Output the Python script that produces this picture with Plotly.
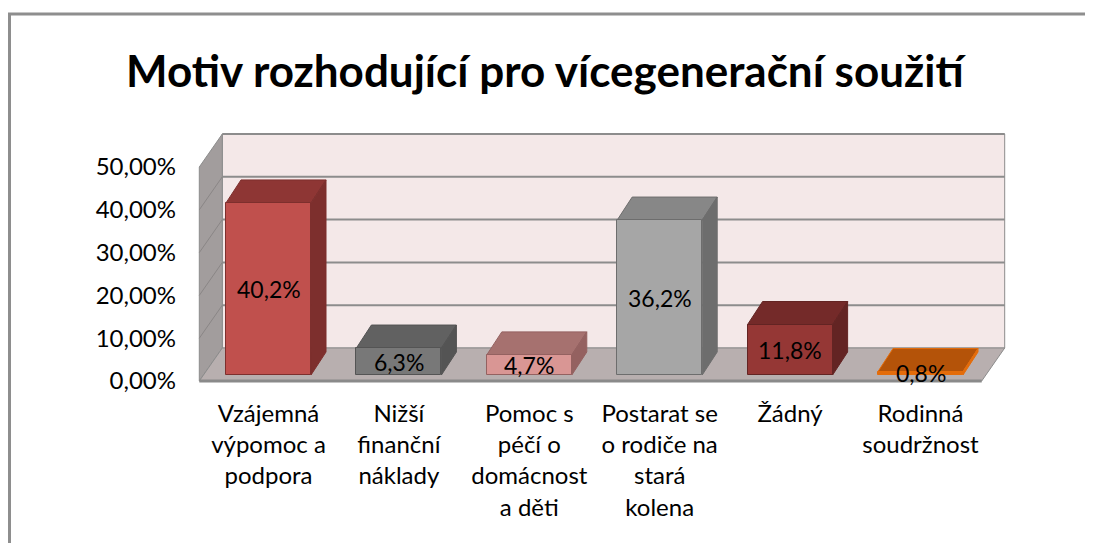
import plotly.graph_objects as go

# ---- data ----
categories = [
    "Vzájemná<br>výpomoc a<br>podpora",
    "Nižší<br>finanční<br>náklady",
    "Pomoc s<br>péčí o<br>domácnost<br>a děti",
    "Postarat se<br>o rodiče na<br>stará<br>kolena",
    "Žádný",
    "Rodinná<br>soudržnost",
]
values = [40.2, 6.3, 4.7, 36.2, 11.8, 0.8]
y_ticks = [0, 10, 20, 30, 40, 50]
y_tick_labels = ["0,00%", "10,00%", "20,00%", "30,00%", "40,00%", "50,00%"]
title_text = "Motiv rozhodující pro vícegenerační soužití"

front_colors = ["#C0504D", "#787878", "#D99694", "#A6A6A6", "#953735", "#E46C0A"]
top_colors = ["#8E3634", "#616161", "#A6716F", "#878787", "#742A29", "#B45309"]
side_colors = ["#7D2F2D", "#545454", "#946160", "#6D6D6D", "#632423", "#E46C0A"]

# ---- geometry (pixels -> data units); page body has an 8px margin ----
OFF = 8
W, H = 1093, 543
KX = 130.4          # px per category
KY = 4.28           # px per percent
x0_px, y0_px = 268.5 - OFF, 375.0 - OFF
xmin = -x0_px / KX
xmax = xmin + W / KX
ymin = -(H - y0_px) / KY
ymax = ymin + H / KY

bar_w = 0.652
n = len(values)
ymax_wall = y_ticks[-1]

def dvec(px_dx, px_dy):
    return px_dx / KX, -px_dy / KY

fx, fy = dvec(-4, 6)      # floor front plane offset
bx, by = dvec(19, -27)    # back wall offset
qx, qy = dvec(15, -23)    # bar depth

def path(pts):
    return "M " + " L ".join(f"{a},{b}" for a, b in pts) + " Z"

shapes = []
L, R = -0.5, n - 0.5
# back wall
shapes.append(dict(type="path", xref="x", yref="y", layer="below",
                   path=path([(L + bx, by), (R + bx, by), (R + bx, ymax_wall + by), (L + bx, ymax_wall + by)]),
                   fillcolor="#F4E8E8", line=dict(color="#8C8C8C", width=1)))
# gridlines back wall
for t in y_ticks[1:]:
    shapes.append(dict(type="line", xref="x", yref="y", layer="below",
                       x0=L + bx, x1=R + bx, y0=t + by, y1=t + by,
                       line=dict(color="#8C8C8C", width=2)))
# left wall
shapes.append(dict(type="path", xref="x", yref="y", layer="below",
                   path=path([(L + fx, fy), (L + bx, by), (L + bx, ymax_wall + by), (L + fx, ymax_wall + fy)]),
                   fillcolor="#A29D9D", line=dict(color="#8C8C8C", width=1)))
for t in y_ticks[1:-1]:
    shapes.append(dict(type="line", xref="x", yref="y", layer="below",
                       x0=L + fx, x1=L + bx, y0=t + fy, y1=t + by,
                       line=dict(color="#8A8686", width=1)))
# floor
shapes.append(dict(type="path", xref="x", yref="y", layer="below",
                   path=path([(L + fx, fy), (R + fx, fy), (R + bx, by), (L + bx, by)]),
                   fillcolor="#B8AFAF", line=dict(color="#8C8C8C", width=1)))
shapes.append(dict(type="line", xref="x", yref="y", layer="below",
                   x0=L + fx, x1=R + fx, y0=fy, y1=fy,
                   line=dict(color="#8A8A8A", width=3)))

# bar 3D faces
for i, v in enumerate(values):
    xl, xr = i - bar_w / 2, i + bar_w / 2
    shapes.append(dict(type="path", xref="x", yref="y", layer="below",
                       path=path([(xl, v), (xr, v), (xr + qx, v + qy), (xl + qx, v + qy)]),
                       fillcolor=top_colors[i], line=dict(color=side_colors[i], width=1)))
    shapes.append(dict(type="path", xref="x", yref="y", layer="below",
                       path=path([(xr, 0), (xr, v), (xr + qx, v + qy), (xr + qx, qy)]),
                       fillcolor=side_colors[i], line=dict(color=side_colors[i], width=1)))

# chart border
shapes.append(dict(type="rect", xref="paper", yref="paper",
                   x0=1.5 / W, x1=1.05, y0=-0.05, y1=1 - 6 / H,
                   line=dict(color="#8E8E8E", width=3), fillcolor="rgba(0,0,0,0)"))

fig = go.Figure()
fig.add_trace(go.Bar(
    x=list(range(n)), y=values, width=bar_w,
    marker=dict(color=front_colors, line=dict(color=side_colors, width=1)),
    hoverinfo="skip", showlegend=False,
))
# invisible trace to activate y2
fig.add_trace(go.Scatter(x=[0], y=[0], yaxis="y2", mode="markers",
                         marker=dict(opacity=0), hoverinfo="skip", showlegend=False))

annotations = []
for i, v in enumerate(values):
    annotations.append(dict(x=i, y=v / 2, xref="x", yref="y", showarrow=False,
                            xanchor="center", yanchor="middle",
                            text=f"{v:.1f}".replace(".", ",") + "%",
                            font=dict(family="Lato", size=23, color="#000000")))
annotations.append(dict(x=(546 - OFF) / W, y=1 - (70 - OFF) / H, xref="paper", yref="paper",
                        showarrow=False, xanchor="center", yanchor="middle",
                        text=f"<b>{title_text}</b>",
                        font=dict(family="Lato", size=44, color="#000000")))

fig.update_layout(
    width=W, height=H,
    margin=dict(l=0, r=0, t=0, b=0),
    paper_bgcolor="#FFFFFF", plot_bgcolor="rgba(0,0,0,0)",
    shapes=shapes, annotations=annotations,
    font=dict(family="Lato", size=24, color="#000000"),
    xaxis=dict(range=[xmin, xmax], domain=[0, 1], tickvals=list(range(n)), ticktext=categories,
               showgrid=False, zeroline=False, showline=False, ticks="",
               anchor="free", position=1 - 389 / H,
               tickfont=dict(family="Lato", size=24, color="#000000"), fixedrange=True),
    yaxis=dict(range=[ymin, ymax], domain=[0, 1], visible=False, fixedrange=True),
    yaxis2=dict(range=[ymin - fy, ymax - fy], overlaying="y", anchor="free", position=168 / W,
                side="left", tickvals=y_ticks, ticktext=y_tick_labels,
                showgrid=False, zeroline=False, showline=False, ticks="",
                tickfont=dict(family="Lato", size=24, color="#000000"), fixedrange=True),
    bargap=0,
)
fig.write_html("out.html")
